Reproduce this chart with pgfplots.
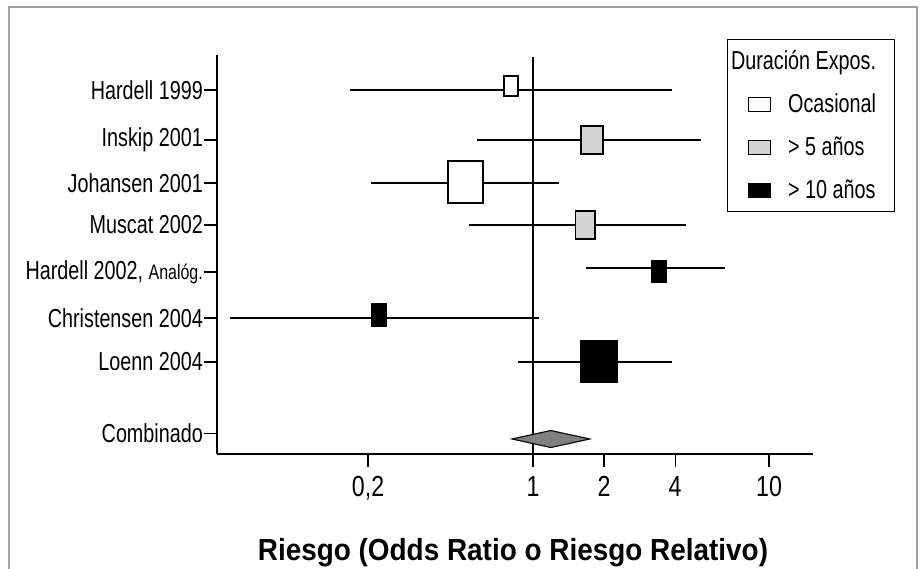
\documentclass[border=0pt]{standalone}
\usepackage{fontspec}
\setmainfont{Liberation Sans}
\newfontfamily\narrow[FakeStretch=0.76]{Liberation Sans}
\newfontfamily\ticknarrow[FakeStretch=0.8]{Liberation Sans}
\newfontfamily\titlefont[FakeStretch=0.915]{Liberation Sans}
\usepackage{pgfplots}
\pgfplotsset{compat=1.18}
\definecolor{boxgray}{HTML}{D4D4D4}
\definecolor{diamgray}{HTML}{808080}
\definecolor{framegray}{HTML}{A0A0A0}
\newcommand\lab{\narrow\fontsize{26}{29}\selectfont}
\newcommand\ticklab{\ticknarrow\fontsize{29}{32}\selectfont}
\newcommand\titlelab{\titlefont\bfseries\fontsize{30.5}{34}\selectfont}

\begin{document}
\begin{tikzpicture}[x=1pt,y=1pt]
\draw[framegray,line width=1.2pt] (9,-20) -- (9,562) -- (917,562) -- (917,-20);
\begin{axis}[
  at={(217pt,115pt)},anchor=south west,
  scale only axis,width=596pt,height=399pt,
  xmode=log,xmin=0.0458,xmax=15.36,
  ymin=0,ymax=8.802,
  axis lines=left,axis line style={-,line width=1.3pt},
  tick align=outside,major tick length=13pt,
  tick style={black,line width=1.2pt},
  xminorticks=false,
  xtick={0.2,1,2,4,10},
  xticklabels={{0,2},1,2,4,10},
  xticklabel style={font=\ticklab,inner sep=0pt,yshift=-9pt},
  ytick={0.45,2.030,3.000,4.015,5.052,5.978,6.927,8.030},
  yticklabels={Combinado,Loenn 2004\hspace{7pt},Christensen 2004,
    {Hardell 2002, {\fontsize{21}{23}\selectfont Analóg.}},Muscat 2002,
    Johansen 2001,Inskip 2001\hspace{7pt},Hardell 1999},
  yticklabel style={font=\lab,inner sep=1pt},
  xlabel={Riesgo (Odds Ratio o Riesgo Relativo)},
  xlabel style={font=\titlelab,at={(axis description cs:0.4966,-0.2657)},anchor=base},
  legend style={at={(axis description cs:0.8557,1.0401)},anchor=north west,
    draw=black,line width=1.2pt,inner sep=0pt,fill=white,font=\lab,
    nodes={inner sep=0pt,minimum height=43pt},column sep=17pt,row sep=0pt},
  legend cell align=left,
]
% reference line at 1
\addplot[black,line width=1.1pt,forget plot] coordinates {(1,0) (1,8.758)};
% confidence intervals
\addplot[black,line width=1.1pt,forget plot] coordinates {(0.168,8.030) (3.88,8.030)};
\addplot[black,line width=1.1pt,forget plot] coordinates {(0.579,6.927) (5.15,6.927)};
\addplot[black,line width=1.1pt,forget plot] coordinates {(0.206,5.978) (1.29,5.978)};
\addplot[black,line width=1.1pt,forget plot] coordinates {(0.536,5.052) (4.45,5.052)};
\addplot[black,line width=1.1pt,forget plot] coordinates {(1.68,4.103) (6.51,4.103)};
\addplot[black,line width=1.1pt,forget plot] coordinates {(0.052,3.000) (1.06,3.000)};
\addplot[black,line width=1.1pt,forget plot] coordinates {(0.864,2.030) (3.88,2.030)};
% point estimates (boxes)
\addplot[draw=black,fill=white,line width=1.1pt,forget plot] coordinates {(0.7534,7.898) (0.864,7.898) (0.864,8.339) (0.7534,8.339)} -- cycle;
\addplot[draw=black,fill=boxgray,line width=1.1pt,forget plot] coordinates {(1.597,6.618) (1.980,6.618) (1.980,7.236) (1.597,7.236)} -- cycle;
\addplot[draw=black,fill=white,line width=1.1pt,forget plot] coordinates {(0.4363,5.537) (0.6140,5.537) (0.6140,6.464) (0.4363,6.464)} -- cycle;
\addplot[draw=black,fill=boxgray,line width=1.1pt,forget plot] coordinates {(1.507,4.743) (1.831,4.743) (1.831,5.361) (1.507,5.361)} -- cycle;
\addplot[draw=black,fill=black,line width=1.1pt,forget plot] coordinates {(3.193,3.794) (3.661,3.794) (3.661,4.258) (3.193,4.258)} -- cycle;
\addplot[draw=black,fill=black,line width=1.1pt,forget plot] coordinates {(0.2059,2.824) (0.2383,2.824) (0.2383,3.309) (0.2059,3.309)} -- cycle;
\addplot[draw=black,fill=black,line width=1.1pt,forget plot] coordinates {(1.597,1.588) (2.270,1.588) (2.270,2.493) (1.597,2.493)} -- cycle;
% combined estimate
\addplot[draw=black,fill=diamgray,line width=1.1pt,forget plot] coordinates {(0.815,0.331) (1.19,0.518) (1.74,0.331) (1.19,0.143)} -- cycle;
% legend
\addlegendimage{legend image code/.code={}}
\addlegendentry{\hspace{-57pt}\makebox[163pt][l]{Duración Expos.}}
\addlegendimage{legend image code/.code={\path[draw=none,fill=none] (0pt,-7.5pt) rectangle (43pt,7.5pt);\draw[fill=white,line width=1.1pt] (21pt,-7pt) rectangle (43pt,7pt);}}
\addlegendentry{Ocasional}
\addlegendimage{legend image code/.code={\path[draw=none,fill=none] (0pt,-7.5pt) rectangle (43pt,7.5pt);\draw[fill=boxgray,line width=1.1pt] (21pt,-7pt) rectangle (43pt,7pt);}}
\addlegendentry{> 5 años}
\addlegendimage{legend image code/.code={\path[draw=none,fill=none] (0pt,-7.5pt) rectangle (43pt,7.5pt);\draw[fill=black,line width=1.1pt] (21pt,-7pt) rectangle (43pt,7pt);}}
\addlegendentry{> 10 años}
\end{axis}
\pgfresetboundingbox
\useasboundingbox (0,0) rectangle (920,569);
\end{tikzpicture}
\end{document}
